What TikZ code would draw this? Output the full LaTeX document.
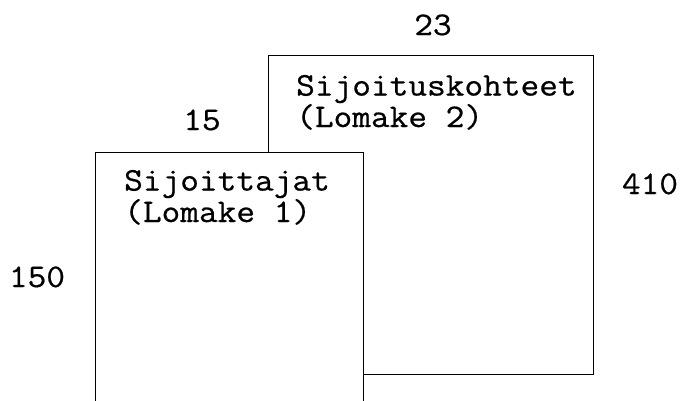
\documentclass[tikz,border=0pt]{standalone}
\usepackage{fontspec}
\newfontfamily\typewr[FakeStretch=1.1,FakeBold=0.6]{Latin Modern Mono}
\begin{document}
\begin{tikzpicture}[x=1pt,y=-1pt,
  frame/.style={draw=black,line width=0.9pt,fill=white},
  label/.style={font=\typewr\fontsize{33}{29}\selectfont,inner sep=0pt,
    align=left,anchor=base west},
  num/.style={font=\typewr\fontsize{33}{29}\selectfont,inner sep=0pt,anchor=base}]
\useasboundingbox (0,0) rectangle (681,400);
% back sheet: investment targets (anchored at the baseline of its last line)
\path[frame] (268,55) rectangle (593,374);
\node[label] (t2) at (296,127) {Sijoituskohteet\\(Lomake 2)};
% front sheet: investors, running off the bottom edge
\begin{scope}
\clip (0,0) rectangle (681,400);
\path[fill=white] (95,152) rectangle (363,410);
\draw[line width=0.9pt] (95,410) -- (95,152) -- (363,152) -- (363,410);
\end{scope}
\node[label] (t1) at (124,222) {Sijoittajat\\(Lomake 1)};
% counts
\node[num] (n23) at (433,35) {23};
\node[num] (n15) at (202,130) {15};
\node[num] (n410) at (650,194) {410};
\node[num] (n150) at (37,287) {150};
\end{tikzpicture}
\end{document}
